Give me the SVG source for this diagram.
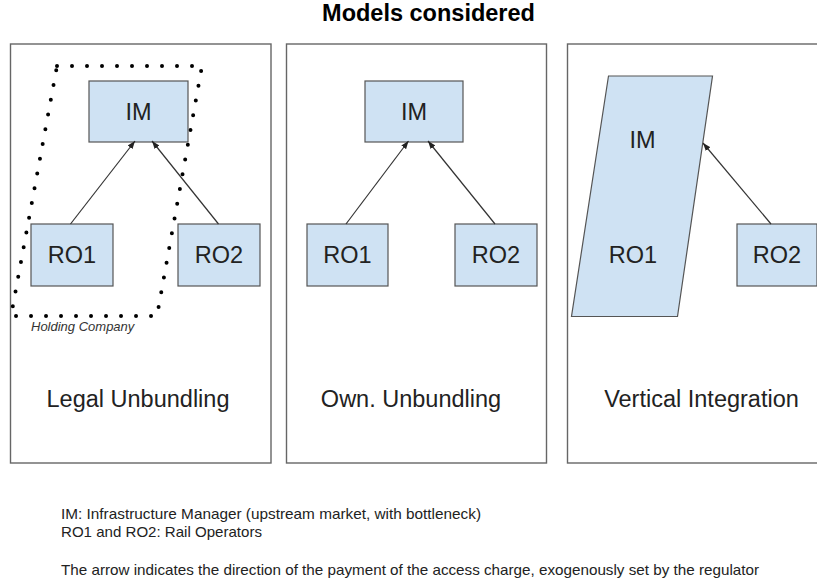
<svg xmlns="http://www.w3.org/2000/svg" width="817" height="582" viewBox="0 0 817 582">
<style>
  .panel { fill: #ffffff; stroke: #666666; stroke-width: 1.4; }
  .box { fill: #cfe2f3; stroke: #555555; stroke-width: 1.2; }
  .lbl { font-family: "Liberation Sans", Arial, sans-serif; font-size: 23.5px; fill: #222222; text-anchor: middle; }
  .title { font-family: "Liberation Sans", Arial, sans-serif; font-size: 23.5px; font-weight: bold; fill: #000000; text-anchor: middle; }
  .note { font-family: "Liberation Sans", Arial, sans-serif; font-size: 15px; fill: #222222; }
  .hold { font-family: "Liberation Sans", Arial, sans-serif; font-size: 13px; font-style: italic; fill: #333333; }
  .arrow { stroke: #333333; stroke-width: 1.2; fill: none; marker-end: url(#ah); }
  .dots { fill: none; stroke: #000000; stroke-width: 4; stroke-linecap: round; stroke-linejoin: round; stroke-dasharray: 0 15; }
</style>
<defs>
  <marker id="ah" viewBox="0 0 8 6" refX="8" refY="3" markerWidth="8" markerHeight="6" markerUnits="userSpaceOnUse" orient="auto">
    <path d="M0,0 L8,3 L0,6 z" fill="#222222"/>
  </marker>
</defs>
<rect width="817" height="582" fill="#ffffff"/>
<text class="title" x="428.5" y="21">Models considered</text>

<g id="panel-legal">
  <rect class="panel" x="10.5" y="44" width="260.5" height="419"/>
  <text class="lbl" x="138" y="407">Legal Unbundling</text>
</g>
<g id="panel-own">
  <rect class="panel" x="286.5" y="44" width="260" height="419"/>
  <text class="lbl" x="411" y="407">Own. Unbundling</text>
</g>
<g id="panel-vertical">
  <rect class="panel" x="567.5" y="44" width="270" height="419"/>
  <text class="lbl" x="701.5" y="407">Vertical Integration</text>
</g>

<g id="holding-company">
  <path class="dots" d="M57,66 L202,66 L157,316 L11,316 Z"/>
  <text class="hold" x="31" y="331">Holding Company</text>
</g>

<g id="p1-im">
  <rect class="box" x="89" y="81" width="99" height="61"/>
  <text class="lbl" x="138.5" y="120">IM</text>
</g>
<g id="p1-ro1">
  <rect class="box" x="31" y="224" width="82" height="62"/>
  <text class="lbl" x="72" y="263">RO1</text>
</g>
<g id="p1-ro2">
  <rect class="box" x="178" y="224" width="82" height="62"/>
  <text class="lbl" x="219" y="263">RO2</text>
</g>

<g id="p2-im">
  <rect class="box" x="365" y="81" width="98" height="61"/>
  <text class="lbl" x="414" y="120">IM</text>
</g>
<g id="p2-ro1">
  <rect class="box" x="307" y="224" width="81" height="62"/>
  <text class="lbl" x="347.5" y="263">RO1</text>
</g>
<g id="p2-ro2">
  <rect class="box" x="455" y="224" width="82" height="62"/>
  <text class="lbl" x="496" y="263">RO2</text>
</g>

<g id="p3-im-ro1">
  <polygon class="box" points="608.5,76 712.5,76 677.5,316.5 571.5,316.5"/>
  <text class="lbl" x="642.5" y="148">IM</text>
  <text class="lbl" x="633" y="263">RO1</text>
</g>
<g id="p3-ro2">
  <rect class="box" x="737" y="224" width="80" height="62"/>
  <text class="lbl" x="777" y="263">RO2</text>
</g>

<g id="connectors">
  <line class="arrow" x1="70.5" y1="224" x2="135" y2="141"/>
  <line class="arrow" x1="218.5" y1="224" x2="152" y2="141"/>
  <line class="arrow" x1="346" y1="224" x2="408.5" y2="141"/>
  <line class="arrow" x1="495" y1="224" x2="428" y2="141"/>
  <line class="arrow" x1="771" y1="224" x2="703" y2="143"/>
</g>

<g id="notes">
  <text class="note" x="61" y="518.5" textLength="420" lengthAdjust="spacingAndGlyphs">IM: Infrastructure Manager (upstream market, with bottleneck)</text>
  <text class="note" x="61" y="536.5" textLength="201" lengthAdjust="spacingAndGlyphs">RO1 and RO2: Rail Operators</text>
  <text class="note" x="61" y="574.5" textLength="698" lengthAdjust="spacingAndGlyphs">The arrow indicates the direction of the payment of the access charge, exogenously set by the regulator</text>
</g>
</svg>
